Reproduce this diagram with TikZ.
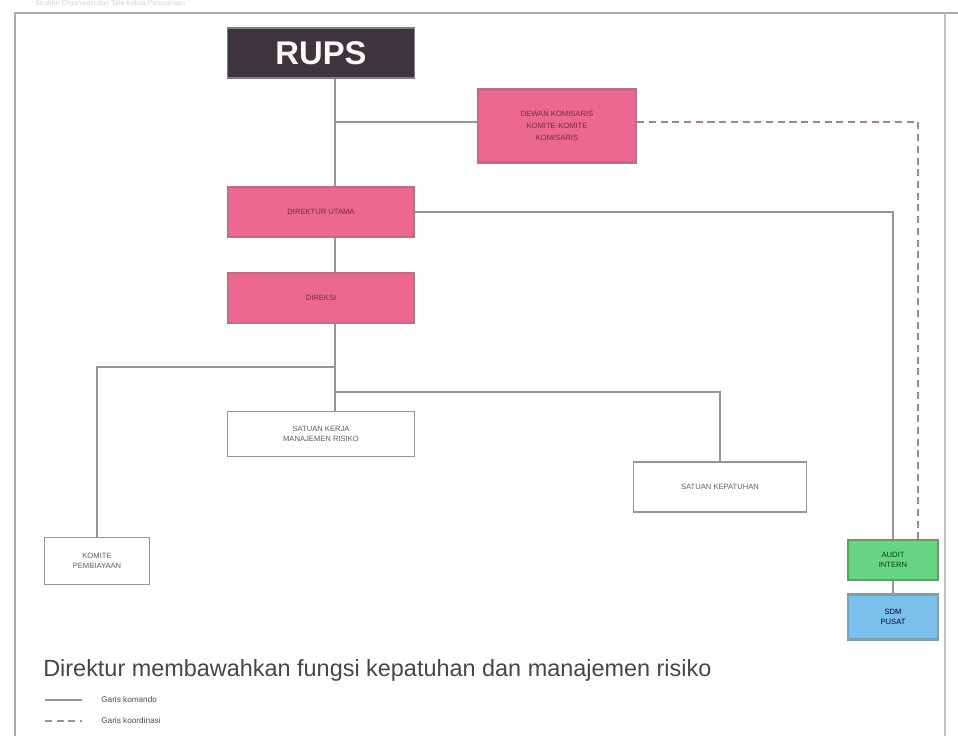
\documentclass[tikz,border=0pt]{standalone}
\usepackage{fontspec}
\setmainfont{Liberation Sans}
\definecolor{lijn}{RGB}{150,150,150}
\definecolor{roze}{RGB}{236,104,144}
\definecolor{rozerand}{RGB}{190,110,130}
\definecolor{donker}{RGB}{62,52,62}
\definecolor{groen}{RGB}{104,212,134}
\definecolor{blauw}{RGB}{122,192,236}
\definecolor{tekst}{RGB}{120,40,62}

\begin{document}
\begin{tikzpicture}[x=0.03cm, y=-0.03cm, line width=2.4pt, draw=lijn,
	box/.style={draw=rozerand, line width=2pt, fill=roze, text=tekst, font=\fontsize{6.5}{8}\selectfont, align=center, inner sep=2pt},
	wit/.style={draw=lijn, line width=1.6pt, fill=white, text=gray!75!black, font=\fontsize{6.5}{8}\selectfont, align=center, inner sep=2pt},
	koord/.style={draw=rozerand!50!lijn, line width=1.6pt, dashed, dash pattern=on 6pt off 4pt}]
	\useasboundingbox (0,0) rectangle (958,736);
	\node[gray!35, font=\fontsize{6}{7}\selectfont, anchor=west] (kop) at (30,4) {Struktur Organisasi dan Tata Kelola Perusahaan};
	\draw[lijn!80, line width=2pt] (960,13) -- (15,13) -- (15,740);
	\draw[lijn!60, line width=1.2pt] (945,13) -- (945,740);

	\node[draw=gray, line width=1pt, fill=donker, text=white!85!pink, font=\fontsize{28}{30}\selectfont\bfseries, minimum width=5.61cm, minimum height=1.5cm] (rups) at (321,53) {RUPS};
	\node[box, minimum width=4.74cm, minimum height=2.19cm] (dekom) at (557,126) {DEWAN KOMISARIS\\[2pt] KOMITE-KOMITE\\[2pt] KOMISARIS};
	\node[box, minimum width=5.58cm, minimum height=1.5cm] (dirut) at (321,212) {DIREKTUR UTAMA};
	\node[box, minimum width=5.58cm, minimum height=1.5cm] (direksi) at (321,298) {DIREKSI};
	\node[wit, minimum width=5.61cm, minimum height=1.35cm] (skmr) at (321,434) {SATUAN KERJA\\MANAJEMEN RISIKO};
	\node[wit, minimum width=5.19cm, minimum height=1.5cm] (kep) at (720,487) {SATUAN KEPATUHAN};
	\node[wit, minimum width=3.15cm, minimum height=1.41cm] (kom) at (97,561) {KOMITE\\PEMBIAYAAN};
	\node[box, draw=gray!80!green, fill=groen, text=green!25!black, minimum width=2.7cm, minimum height=1.2cm] (skai) at (893,560) {AUDIT\\INTERN};
	\node[box, draw=gray!70!cyan, fill=blauw, text=blue!25!black, minimum width=2.7cm, minimum height=1.35cm] (sdm) at (893,617) {SDM\\PUSAT};

	\coordinate (j1) at (335,122);
	\coordinate (j2) at (335,367);
	\coordinate (j3) at (335,392);
	\coordinate (d1) at (918,540);
	\draw (rups.south -| j1) -- (dirut.north -| j1);
	\draw (dirut.south -| j1) -- (direksi.north -| j1);
	\draw (direksi.south -| j1) -- (j3);
	\draw (j1) -- (j1 -| dekom.west);
	\draw[koord] (j1 -| dekom.east) -| (d1);
	\draw (dirut.east) -| (skai.north);
	\draw (skai) -- (sdm);
	\draw (j2) -| (kom.north);
	\draw (j3) -| (kep.north);
	\draw (j3) -- (skmr.north -| j3);

	\node[gray!55!black, font=\fontsize{20}{22}\selectfont, anchor=west] (noot) at (38,670) {Direktur membawahkan fungsi kepatuhan dan manajemen risiko};
	\coordinate (l1) at (45,700);
	\coordinate (l2) at (82,700);
	\coordinate (l3) at (45,721);
	\coordinate (l4) at (82,721);
	\draw[line width=1.6pt] (l1) -- (l2);
	\draw[koord, draw=lijn] (l3) -- (l4);
	\node[gray!60!black, font=\fontsize{7}{8}\selectfont, anchor=west] (komando) at (96,700) {Garis komando};
	\node[gray!60!black, font=\fontsize{7}{8}\selectfont, anchor=west] (koordinasi) at (96,721) {Garis koordinasi};
\end{tikzpicture}
\end{document}
